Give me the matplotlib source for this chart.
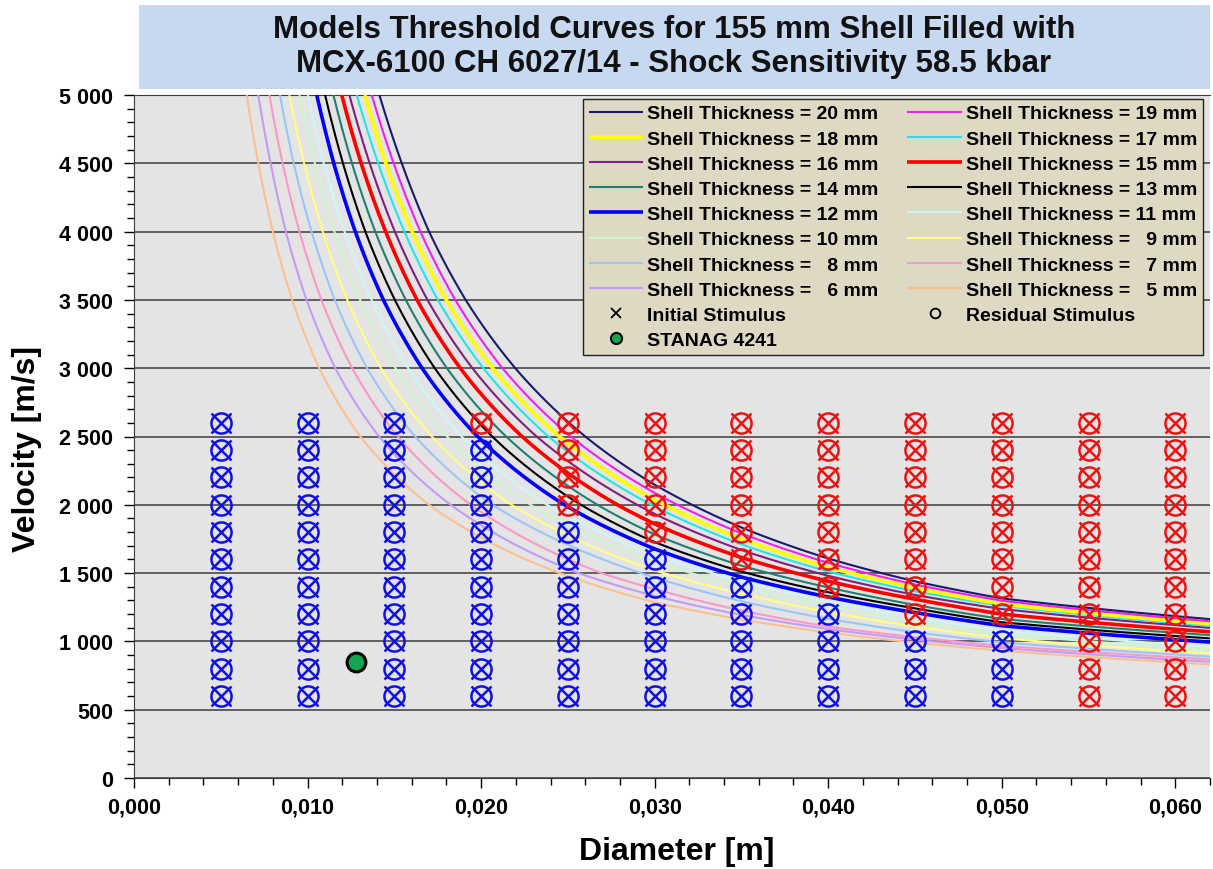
import numpy as np
import matplotlib
matplotlib.use('Agg')
import matplotlib.pyplot as plt
from matplotlib.lines import Line2D
from matplotlib.patches import Rectangle
from matplotlib.ticker import FuncFormatter, MultipleLocator

plt.rcParams['font.family'] = ['Liberation Sans', 'DejaVu Sans']
plt.rcParams['font.weight'] = 'bold'

nan = np.nan

# shell thicknesses (mm), one threshold curve each
thickness_mm = [5, 6, 7, 8, 9, 10, 11, 12, 13, 14, 15, 16, 17, 18, 19, 20]

# steep part: diameter (m) where each curve crosses these velocities
cross_v = [5000, 4500, 4000, 3500, 3000, 2500, 2000, 1500]
d_5000 = [0.00650, 0.00716, 0.00780, 0.00841, 0.00895, 0.00953, 0.01001, 0.01053,
          0.01101, 0.01149, 0.01197, 0.01241, 0.01284, 0.01331, 0.01370, 0.01414]
d_4500 = [0.00716, 0.00787, 0.00856, 0.00920, 0.00980, 0.01042, 0.01093, 0.01151,
          0.01204, 0.01256, 0.01309, 0.01358, 0.01407, 0.01451, 0.01496, 0.01543]
d_4000 = [0.00800, 0.00875, 0.00953, 0.01023, 0.01088, 0.01155, 0.01213, 0.01275,
          0.01333, 0.01390, 0.01450, 0.01503, 0.01558, 0.01603, 0.01650, 0.01700]
d_3500 = [0.00911, 0.00994, 0.01080, 0.01157, 0.01229, 0.01303, 0.01369, 0.01437,
          0.01503, 0.01566, 0.01631, 0.01691, 0.01751, 0.01800, 0.01851, 0.01911]
d_3000 = [0.01067, 0.01160, 0.01257, 0.01343, 0.01423, 0.01507, 0.01580, 0.01660,
          0.01733, 0.01803, 0.01880, 0.01950, 0.02013, 0.02067, 0.02123, 0.02197]
d_2500 = [0.01304, 0.01412, 0.01520, 0.01620, 0.01716, 0.01804, 0.01888, 0.01980,
          0.02064, 0.02144, 0.02236, 0.02320, 0.02388, 0.02452, 0.02516, 0.02600]
d_2000 = [0.01700, 0.01825, 0.01940, 0.02065, 0.02175, 0.02285, 0.02380, 0.02480,
          0.02575, 0.02670, 0.02785, nan, nan, nan, nan, nan]
d_1500 = [0.02453, 0.02560, 0.02693, nan, nan, nan, nan, nan,
          nan, nan, nan, nan, nan, nan, nan, nan]

# flat part: velocity (m/s) of each curve at these diameters
fixed_d = [0.030, 0.035, 0.040, 0.045, 0.050, 0.062]
v_030 = [1287, 1333, 1383, 1467, 1520, 1583, 1633, 1677, 1727, 1783, 1860, 1933, 1987, 2037, 2087, 2147]
v_035 = [1160, 1194, 1226, 1294, 1349, 1400, 1440, 1471, 1511, 1554, 1614, 1669, 1711, 1751, 1791, 1834]
v_040 = [1065, 1090, 1108, 1165, 1215, 1258, 1293, 1325, 1360, 1395, 1440, 1480, 1512, 1543, 1575, 1607]
v_045 = [991, 1013, 1030, 1067, 1109, 1144, 1176, 1211, 1242, 1267, 1309, 1340, 1367, 1391, 1416, 1440]
v_050 = [932, 952, 968, 993, 1023, 1054, 1078, 1115, 1140, 1164, 1200, 1237, 1261, 1274, 1298, 1315]
v_062 = [832, 851, 869, 889, 912, 937, 960, 995, 1022, 1046, 1070, 1099, 1113, 1128, 1147, 1163]

# test grid
test_d = [0.005, 0.010, 0.015, 0.020, 0.025, 0.030, 0.035, 0.040, 0.045, 0.050, 0.055, 0.060]
test_v = [600, 800, 1000, 1200, 1400, 1600, 1800, 2000, 2200, 2400, 2600]
# lowest velocity that reacted (red) per diameter, None = all blue
lowest_go = [None, None, None, 2600, 2000, 1800, 1600, 1400, 1200, 1200, 600, 600]

stanag_d = [0.0128]
stanag_v = [850]

curve_colors = ['#fcc08e', '#c39cf5', '#fa98c8', '#99c6f5', '#ffff80', '#ccf7cc', '#ccf7f7', '#0000ff',
                '#000000', '#1f7f70', '#ff0000', '#7f1f7f', '#22e6e6', '#ffff00', '#ee22ee', '#1a1a6e']
thick_curves = [12, 15, 18]


def smooth_path(xs, ys, n=30):
    # draw each segment as a straight line in log-log space
    px, py = [xs[0]], [ys[0]]
    for k in range(len(xs) - 1):
        t = np.linspace(0, 1, n)[1:]
        px.extend(xs[k] * (xs[k + 1] / xs[k]) ** t)
        py.extend(ys[k] * (ys[k + 1] / ys[k]) ** t)
    return px, py


fig = plt.figure(figsize=(12.13, 8.70), dpi=100)
W, H = 1213, 870
ax = fig.add_axes([134 / W, 1 - 779 / H, (1210 - 134) / W, (779 - 96) / H])
ax.set_facecolor('#e4e4e4')

# title box
fig.patches.append(Rectangle((139 / W, 1 - 90 / H), (1210 - 139) / W, 84 / H,
                             transform=fig.transFigure, facecolor='#c6d9f1',
                             edgecolor='none', zorder=0))
fig.text(674 / W, 1 - 47 / H,
         'Models Threshold Curves for 155 mm Shell Filled with\n'
         'MCX-6100 CH 6027/14 - Shock Sensitivity 58.5 kbar',
         ha='center', va='center', fontsize=22.5, fontweight='bold',
         linespacing=1.18, color='#111111')

cross_d = [d_5000, d_4500, d_4000, d_3500, d_3000, d_2500, d_2000, d_1500]
fixed_v = [v_030, v_035, v_040, v_045, v_050, v_062]

curve_handles = {}
for i, t in enumerate(thickness_mm):
    xs, ys = [], []
    for lv, row in zip(cross_v, cross_d):
        if not np.isnan(row[i]):
            xs.append(row[i])
            ys.append(lv)
    for d, row in zip(fixed_d, fixed_v):
        xs.append(d)
        ys.append(row[i])
    px, py = smooth_path(xs, ys)
    lw = 2.6 if t in thick_curves else 1.5
    pad = '  ' if t < 10 else ''
    h, = ax.plot(px, py, color=curve_colors[i], lw=lw, zorder=3,
                 solid_joinstyle='round', solid_capstyle='butt',
                 label=f'Shell Thickness = {pad}{t} mm')
    curve_handles[t] = h

# test points
blue_x, blue_y, red_x, red_y = [], [], [], []
for d, thr in zip(test_d, lowest_go):
    for v in test_v:
        if thr is not None and v >= thr:
            red_x.append(d)
            red_y.append(v)
        else:
            blue_x.append(d)
            blue_y.append(v)
for xs, ys, c in [(blue_x, blue_y, '#1010e6'), (red_x, red_y, '#ee1111')]:
    ax.plot(xs, ys, ls='none', marker='o', ms=14.5, mfc='none', mec=c, mew=1.8, zorder=4)
    ax.plot(xs, ys, ls='none', marker='x', ms=14, mec=c, mew=1.8, zorder=4)

ax.plot(stanag_d, stanag_v, ls='none', marker='o', ms=13.5, mfc='#13a651', mec='black',
        mew=2.2, zorder=5)

# axes
ax.set_xlim(0, 0.062)
ax.set_ylim(0, 5000)
ax.xaxis.set_major_locator(MultipleLocator(0.010))
ax.xaxis.set_minor_locator(MultipleLocator(0.002))
ax.yaxis.set_major_locator(MultipleLocator(500))
ax.yaxis.set_minor_locator(MultipleLocator(100))
ax.xaxis.set_major_formatter(FuncFormatter(lambda v, p: f'{v:.3f}'.replace('.', ',')))
ax.yaxis.set_major_formatter(FuncFormatter(lambda v, p: f'{int(round(v)):,}'.replace(',', ' ')))
ax.tick_params(axis='both', which='major', length=7, width=1, labelsize=15.5, direction='out')
ax.tick_params(axis='both', which='minor', length=5, width=1, direction='out')
ax.tick_params(axis='y', which='major', pad=8)
ax.tick_params(axis='x', which='major', pad=6)
for lab in ax.get_xticklabels() + ax.get_yticklabels():
    lab.set_fontweight('bold')

ax.yaxis.grid(True, which='major', color='#3c3c3c', lw=1.1)
ax.set_axisbelow(True)
ax.spines['right'].set_visible(False)
ax.spines['top'].set_color('#3c3c3c')
ax.spines['left'].set_color('#3c3c3c')
ax.spines['bottom'].set_color('#3c3c3c')

ax.set_xlabel('Diameter [m]', fontsize=23, fontweight='bold')
ax.set_ylabel('Velocity [m/s]', fontsize=23, fontweight='bold')
ax.xaxis.set_label_coords(0.5046, -0.085)
ax.yaxis.set_label_coords(-0.099, 0.483)
ax.yaxis.label.set_va('center')

# legend, Excel fills row-wise so order the handles for column-wise filling
h_init = Line2D([], [], ls='none', marker='x', color='black', ms=7, mew=1.3, label='Initial Stimulus')
h_res = Line2D([], [], ls='none', marker='o', mfc='none', mec='black', ms=7, mew=1.3,
               label='Residual Stimulus')
h_stan = Line2D([], [], ls='none', marker='o', mfc='#13a651', mec='black', ms=8, mew=1.5,
                label='STANAG 4241')
col1 = [curve_handles[t] for t in [20, 18, 16, 14, 12, 10, 8, 6]] + [h_init, h_stan]
col2 = [curve_handles[t] for t in [19, 17, 15, 13, 11, 9, 7, 5]] + [h_res]
handles = col1 + col2
leg = ax.legend(handles=handles, labels=[h.get_label() for h in handles], ncol=2,
                loc='upper right', bbox_to_anchor=(0.9935, 0.9941), borderaxespad=0,
                prop={'weight': 'bold', 'size': 14},
                frameon=True, fancybox=False, framealpha=1, facecolor='#ddd9c3',
                edgecolor='#222222', handlelength=2.8, handletextpad=0.2,
                columnspacing=1.5, labelspacing=0.39, borderpad=0.3)
leg.get_frame().set_linewidth(1.0)
leg.set_zorder(6)

fig.savefig('out.png', dpi=100)
